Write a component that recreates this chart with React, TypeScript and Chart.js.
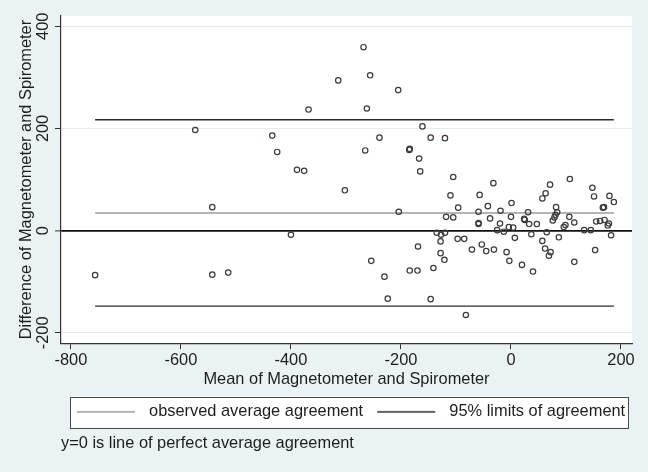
import React, { useEffect, useRef } from 'react';
import { Chart, registerables } from 'chart.js';

Chart.register(...registerables);

// ---- data ----
const xMeans = [
  -756, -574, -543, -543, -514, -434, -425, -400, -389, -376, -368,
  -268, -314, -256, -205, -262, -161, -239, -146, -120, -265, -184, -185, -167, -165, -105, -302, -110, -204, -96, -118, -105,
  -32, -57, -59, -42, -19, 1, 0, -59, -59, -38, -20, -25, -13, -4, 4, 24, 25, 31, 33, 47, 57, 63, 71, 82, 84, 81, 79, 76, 65,
  107, 106, 115, 99, 96, 148, 151, 169, 167, 179, 187, 155, 162, 170, 178, 176, 133, 145, 182, 37, 57, 87, 7,
  -135, -127, -120, -128, -97, -85, -169, -254, -230, -224, -184, -170, -141, -146, -128, -121, -71, -53, -45, -31, -82,
  -8, -3, 20, 40, 62, 72, 69, 115, 153,
];
const yDiffs = [
  -87, 197, 46, -86, -82, 186, 154, -8, 119, 117, 237,
  359, 294, 304, 275, 239, 204, 182, 182, 181, 157, 160, 158, 141, 116, 105, 79, 69, 37, 45, 27, 26,
  93, 70, 37, 48, 39, 54, 27, 15, 13, 24, 14, 1, -2, 7, 6, 23, 21, 36, 13, 13, 63, 73, 90, 46, 36, 31, 26, 20, -3,
  101, 27, 16, 11, 7, 84, 67, 46, 45, 68, 56, 18, 19, 21, 14, 10, 1, 1, -9, -7, -20, -13, -14,
  -4, -8, -4, -21, -16, -16, -31, -59, -90, -133, -78, -78, -73, -134, -44, -57, -37, -27, -40, -37, -165,
  -42, -59, -67, -80, -35, -42, -49, -61, -38,
];
const meanDiff = 34.7;
const upperLimit = 217;
const lowerLimit = -147.6;
const xTicks = [-800, -600, -400, -200, 0, 200];
const yTicks = [-200, 0, 200, 400];
const legendLabels = ['observed average agreement', '95% limits of agreement'];
const noteText = 'y=0 is line of perfect average agreement';
const xTitle = 'Mean of Magnetometer and Spirometer';
const yTitle = 'Difference of Magnetometer and Spirometer';

const FONT = '"Liberation Sans", Arial, Helvetica, sans-serif';
const FS = 16.4;
const MEAN_COLOR = '#9c9c9c';
const LIMIT_COLOR = '#2b2b2b';
const TEXT_COLOR = '#1e1e1e';
const SAMPLE_OFFSET = 9;
const SAMPLE_WIDTH = 73;

function makeSample(color: string, width: number): HTMLCanvasElement {
  const c = document.createElement('canvas');
  c.width = SAMPLE_WIDTH;
  c.height = 4;
  const g = c.getContext('2d')!;
  g.strokeStyle = color;
  g.lineWidth = width;
  g.beginPath();
  g.moveTo(SAMPLE_OFFSET, 2);
  g.lineTo(SAMPLE_OFFSET + 58, 2);
  g.stroke();
  return c;
}

const backgroundPlugin = {
  id: 'stataBackground',
  beforeDraw(chart: any) {
    const { ctx, chartArea: a, width, height } = chart;
    ctx.save();
    ctx.fillStyle = '#eaf2f3';
    ctx.fillRect(0, 0, width, height);
    ctx.fillStyle = '#ffffff';
    ctx.fillRect(a.left, a.top, a.right - a.left, a.bottom - a.top);
    const lg = chart.legend;
    if (lg && lg.legendHitBoxes && lg.legendHitBoxes.length) {
      const hb = lg.legendHitBoxes;
      const l = Math.min(...hb.map((h: any) => h.left)) + SAMPLE_OFFSET - 7;
      const r = Math.max(...hb.map((h: any) => h.left + h.width)) + 3;
      const t = hb[0].top - 7;
      const b = hb[0].top + hb[0].height + 7.5;
      ctx.fillStyle = '#ffffff';
      ctx.fillRect(l, t, r - l, b - t);
      ctx.strokeStyle = '#4a4a4a';
      ctx.lineWidth = 1;
      ctx.strokeRect(Math.round(l) + 0.5, Math.round(t) + 0.5, Math.round(r - l), Math.round(b - t));
    }
    ctx.restore();
  },
};

export default function App() {
  const ref = useRef<HTMLCanvasElement | null>(null);

  useEffect(() => {
    if (!ref.current) return;
    Chart.defaults.font.family = FONT;
    const points = xMeans.map((x, i) => ({ x, y: yDiffs[i] }));
    const xMin = Math.min(...xMeans);
    const xMax = Math.max(...xMeans);
    const samples = [makeSample(MEAN_COLOR, 1.4), makeSample(LIMIT_COLOR, 1.4)];

    const chart = new Chart(ref.current, {
      type: 'scatter',
      data: {
        datasets: [
          {
            label: 'points',
            data: points,
            pointStyle: 'circle',
            pointRadius: 2.7,
            pointBorderWidth: 1.2,
            borderColor: '#3a3a3a',
            backgroundColor: 'rgba(0,0,0,0)',
            pointBackgroundColor: 'rgba(0,0,0,0)',
            pointBorderColor: '#3a3a3a',
            order: 0,
          },
          {
            label: legendLabels[0],
            data: [{ x: xMin, y: meanDiff }, { x: xMax, y: meanDiff }],
            showLine: true,
            borderColor: MEAN_COLOR,
            borderWidth: 1.4,
            pointRadius: 0,
            order: 2,
          },
          {
            label: legendLabels[1],
            data: [{ x: xMin, y: upperLimit }, { x: xMax, y: upperLimit }],
            showLine: true,
            borderColor: LIMIT_COLOR,
            borderWidth: 1.4,
            pointRadius: 0,
            order: 1,
          },
          {
            label: 'lower',
            data: [{ x: xMin, y: lowerLimit }, { x: xMax, y: lowerLimit }],
            showLine: true,
            borderColor: LIMIT_COLOR,
            borderWidth: 1.4,
            pointRadius: 0,
            order: 1,
          },
        ],
      },
      options: {
        responsive: false,
        animation: false,
        devicePixelRatio: 1,
        events: [],
        layout: { padding: { top: 16, right: 16, left: 0, bottom: 0 } },
        scales: {
          x: {
            type: 'linear',
            min: -818,
            max: 220,
            afterBuildTicks: (s: any) => {
              s.ticks = xTicks.map((v) => ({ value: v }));
            },
            afterFit: (s: any) => {
              s.height = 55.5;
            },
            grid: {
              drawOnChartArea: false,
              drawTicks: true,
              tickLength: 6,
              tickColor: '#333333',
              tickWidth: 1,
            },
            border: { display: true, color: '#333333', width: 1.2 },
            ticks: {
              padding: 2,
              color: TEXT_COLOR,
              font: { size: FS, family: FONT },
              maxRotation: 0,
              autoSkip: false,
            },
            title: {
              display: true,
              text: xTitle,
              color: TEXT_COLOR,
              font: { size: FS, family: FONT },
              padding: { top: 0, bottom: 9.3 },
            },
          },
          y: {
            type: 'linear',
            min: -220,
            max: 420,
            afterBuildTicks: (s: any) => {
              s.ticks = yTicks.map((v) => ({ value: v }));
            },
            afterFit: (s: any) => {
              s.width = 61;
            },
            grid: {
              drawOnChartArea: true,
              drawTicks: true,
              tickLength: 6,
              tickColor: '#333333',
              tickWidth: 1,
              color: (c: any) => (c.tick && c.tick.value === 0 ? '#111111' : '#e4edef'),
              lineWidth: (c: any) => (c.tick && c.tick.value === 0 ? 1.8 : 1),
            },
            border: { display: true, color: '#333333', width: 1.2 },
            ticks: {
              minRotation: 90,
              maxRotation: 90,
              crossAlign: 'center',
              padding: -5,
              color: TEXT_COLOR,
              font: { size: FS, family: FONT },
              autoSkip: false,
            },
            title: {
              display: true,
              text: yTitle,
              color: TEXT_COLOR,
              font: { size: FS, family: FONT },
              padding: { top: 17, bottom: 0 },
            },
          },
        },
        plugins: {
          tooltip: { enabled: false },
          legend: {
            display: true,
            position: 'bottom',
            fullSize: false,
            align: 'center',
            labels: {
              usePointStyle: true,
              pointStyleWidth: SAMPLE_WIDTH,
              padding: 5,
              color: TEXT_COLOR,
              font: { size: FS, family: FONT },
              generateLabels: () =>
                legendLabels.map((text, i) => ({
                  text,
                  pointStyle: samples[i] as any,
                  fillStyle: 'rgba(0,0,0,0)',
                  strokeStyle: 'rgba(0,0,0,0)',
                  lineWidth: 0,
                  hidden: false,
                  datasetIndex: i + 1,
                  fontColor: TEXT_COLOR,
                })),
            },
          },
          subtitle: {
            display: true,
            text: noteText,
            position: 'bottom',
            align: 'start',
            fullSize: false,
            color: TEXT_COLOR,
            font: { size: FS, family: FONT, weight: 'normal' },
            padding: { top: 3.3, bottom: 19 },
          },
        },
      } as any,
      plugins: [backgroundPlugin],
    });
    return () => chart.destroy();
  }, []);

  return (
    <div style={{ position: 'fixed', left: 0, top: 0, width: 648, height: 472, background: '#eaf2f3' }}>
      <canvas ref={ref} width={648} height={472} style={{ display: 'block' }} />
    </div>
  );
}
